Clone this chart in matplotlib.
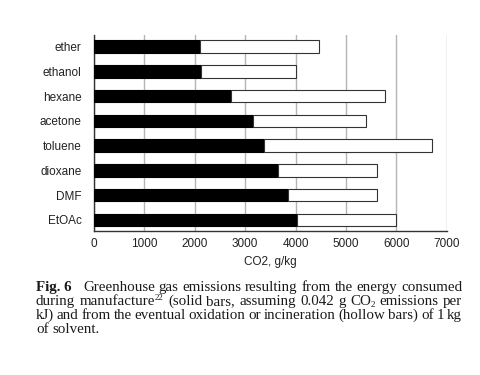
import numpy as np
import matplotlib
matplotlib.use("Agg")
import matplotlib.pyplot as plt

# Data (g CO2 per kg of solvent)
solvents = ["ether", "ethanol", "hexane", "acetone", "toluene", "dioxane", "DMF", "EtOAc"]
manufacture = [2100, 2120, 2720, 3150, 3380, 3650, 3840, 4030]      # solid bars
incineration = [2360, 1880, 3050, 2250, 3320, 1970, 1780, 1970]     # hollow bars
xticks = [0, 1000, 2000, 3000, 4000, 5000, 6000, 7000]

plt.rcParams["font.family"] = ["Liberation Sans", "DejaVu Sans"]

fig = plt.figure(figsize=(4.8, 3.75), dpi=100)
ax = fig.add_axes([0.196, 0.384, 0.7346, 0.5227])

# ether at the top, EtOAc at the bottom
y = np.arange(len(solvents))[::-1]
ax.barh(y, manufacture, height=0.5, color="black", edgecolor="black", linewidth=0.8, zorder=3)
ax.barh(y, incineration, left=manufacture, height=0.5, color="white",
        edgecolor="#333333", linewidth=0.8, zorder=3)

ax.set_yticks(y)
ax.set_yticklabels(solvents)
ax.set_xticks(xticks)
ax.set_xlim(0, 7000)
ax.set_ylim(-0.45, 7.47)
ax.tick_params(axis="both", length=0, labelsize=8.5, colors="#222222")
ax.tick_params(axis="y", pad=9)
ax.tick_params(axis="x", pad=5)
ax.grid(axis="x", color="#b5b5b5", linewidth=1.0, zorder=0)
for s in ["top", "right"]:
    ax.spines[s].set_visible(False)
for s in ["left", "bottom"]:
    ax.spines[s].set_color("#333333")
    ax.spines[s].set_linewidth(1.0)
ax.set_xlabel("CO2, g/kg", fontsize=8.5, labelpad=4, color="#222222")

# Justified caption below the chart
fs = 10.8
left_px, right_px = 36, 462
W, H = 480, 375
styles = {
    "n": dict(fontsize=fs, weight="normal", dy=0),
    "b": dict(fontsize=fs, weight="bold", dy=0),
    "sup": dict(fontsize=fs * 0.6, weight="normal", dy=5),
    "sub": dict(fontsize=fs * 0.6, weight="normal", dy=-2),
}


def put_line(words, base_px, justify=True, gap_weights=None):
    r = fig.canvas.get_renderer()
    placed = []
    for parts in words:
        objs = []
        for txt, st in parts:
            s = styles[st]
            t = fig.text(0, 1 - (base_px - s["dy"]) / H, txt, fontsize=s["fontsize"],
                         fontweight=s["weight"], family="Liberation Serif",
                         color="#1a1a1a", va="baseline")
            objs.append((t, t.get_window_extent(r).width))
        placed.append(objs)
    widths = [sum(w for _, w in objs) for objs in placed]
    n = len(placed) - 1
    if gap_weights is None:
        gap_weights = [1] * n
    if justify and n > 0:
        unit = (right_px - left_px - sum(widths)) / sum(gap_weights)
    else:
        unit = fs * 0.25 * 100 / 72
    x = left_px
    for i, objs in enumerate(placed):
        xx = x
        for t, w in objs:
            t.set_x(xx / W)
            xx += w
        x += widths[i]
        if i < n:
            x += unit * gap_weights[i]


def words_of(s):
    return [[(w, "n")] for w in s.split()]


line1 = [[("Fig. 6", "b")]] + words_of("Greenhouse gas emissions resulting from the energy consumed")
line2 = ([[("during", "n")], [("manufacture", "n"), ("22", "sup")]]
         + words_of("(solid bars, assuming 0.042 g")
         + [[("CO", "n"), ("2", "sub")]] + words_of("emissions per"))
line3 = words_of("kJ) and from the eventual oxidation or incineration (hollow bars) of 1 kg")
line4 = words_of("of solvent.")

put_line(line1, 291, gap_weights=[3] + [1] * (len(line1) - 2))
put_line(line2, 305)
put_line(line3, 319)
put_line(line4, 333, justify=False)

fig.savefig("out.png", dpi=100)
